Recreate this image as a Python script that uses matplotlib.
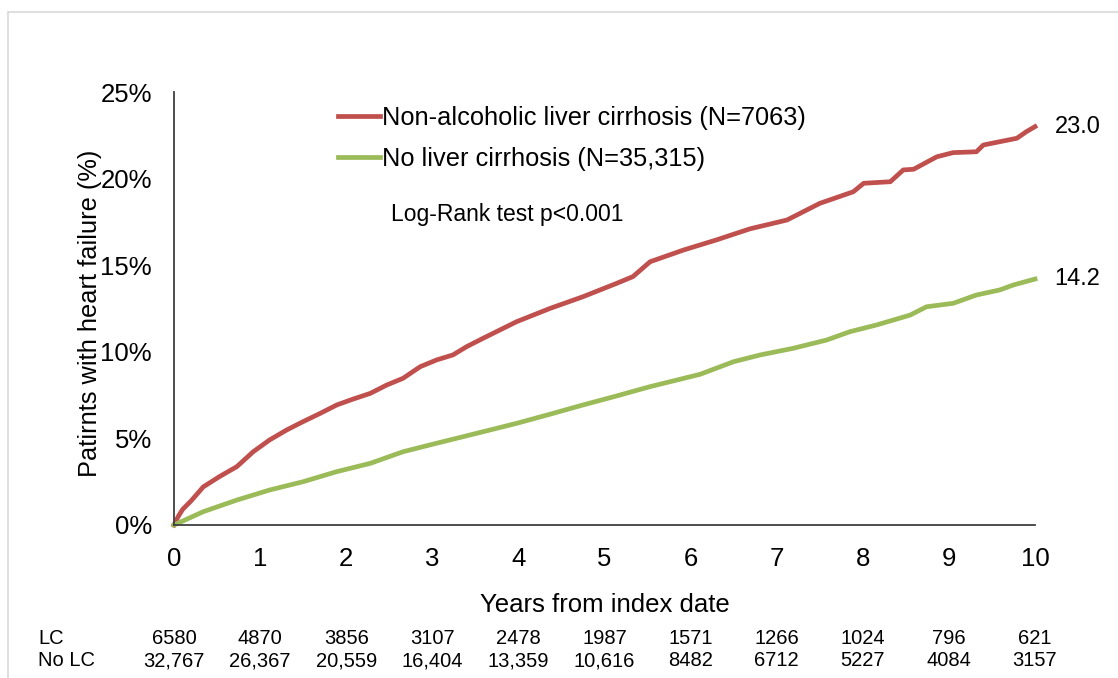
import matplotlib
matplotlib.use("Agg")
import matplotlib.pyplot as plt
from matplotlib.patches import Rectangle
import matplotlib.transforms as mtransforms

plt.rcParams['font.family'] = ['Liberation Sans', 'DejaVu Sans']

# Data
years_lc = [0, 0.05, 0.1, 0.2, 0.34, 0.53, 0.73, 0.92, 1.11, 1.31, 1.50, 1.70, 1.89, 2.08,
            2.28, 2.47, 2.66, 2.86, 3.05, 3.24, 3.40, 3.59, 3.98, 4.37, 4.75, 5.14, 5.33,
            5.53, 5.92, 6.30, 6.69, 7.12, 7.31, 7.50, 7.89, 8.01, 8.32, 8.47, 8.59, 8.86,
            9.05, 9.32, 9.40, 9.59, 9.79, 9.90, 10.0]
lc = [0, 0.5, 0.9, 1.4, 2.2, 2.8, 3.37, 4.23, 4.91, 5.49, 5.97, 6.45, 6.93, 7.27,
      7.6, 8.08, 8.47, 9.14, 9.53, 9.82, 10.3, 10.78, 11.74, 12.51, 13.18, 13.95, 14.34,
      15.2, 15.88, 16.46, 17.1, 17.61, 18.09, 18.57, 19.24, 19.73, 19.82, 20.5, 20.54, 21.26,
      21.5, 21.55, 21.94, 22.13, 22.33, 22.71, 23.0]

years_nolc = [0, 0.34, 0.73, 1.11, 1.50, 1.89, 2.28, 2.66, 3.05, 3.44, 3.98, 4.37, 4.75,
              5.14, 5.53, 6.11, 6.50, 6.81, 7.19, 7.58, 7.85, 8.16, 8.55, 8.74, 9.05, 9.32,
              9.59, 9.75, 10.0]
nolc = [0, 0.77, 1.44, 2.02, 2.5, 3.08, 3.56, 4.23, 4.72, 5.2, 5.87, 6.4, 6.93,
        7.45, 7.99, 8.7, 9.43, 9.82, 10.2, 10.68, 11.16, 11.55, 12.12, 12.6, 12.8, 13.28,
        13.57, 13.86, 14.2]

label_lc = "Non-alcoholic liver cirrhosis (N=7063)"
label_nolc = "No liver cirrhosis (N=35,315)"
end_lc = "23.0"
end_nolc = "14.2"

risk_years = [0, 1, 2, 3, 4, 5, 6, 7, 8, 9, 10]
risk_lc = ["6580", "4870", "3856", "3107", "2478", "1987", "1571", "1266", "1024", "796", "621"]
risk_nolc = ["32,767", "26,367", "20,559", "16,404", "13,359", "10,616", "8482", "6712",
             "5227", "4084", "3157"]

x_ticks = [0, 1, 2, 3, 4, 5, 6, 7, 8, 9, 10]
y_ticks = [0, 5, 10, 15, 20, 25]

RED = "#C0504D"
GREEN = "#9BBB59"

W, H = 1118, 678
fig = plt.figure(figsize=(W / 100, H / 100), dpi=100)
fig.patch.set_facecolor("white")

# outer frame
fig.add_artist(Rectangle((8 / W, -0.05), 1.1, (H - 12) / H + 0.05, transform=fig.transFigure,
                         fill=False, edgecolor="#D9D9D9", linewidth=1.2))

ax = fig.add_axes([174 / W, (H - 525) / H, (1035 - 174) / W, (525 - 92) / H])
ax.plot(years_lc, lc, color=RED, lw=3.4, solid_joinstyle="round", label=label_lc, clip_on=False)
ax.plot(years_nolc, nolc, color=GREEN, lw=3.4, solid_joinstyle="round", label=label_nolc, clip_on=False)

ax.set_xlim(0, 10)
ax.set_ylim(0, 25)
ax.set_xticks(x_ticks)
ax.set_xticklabels([str(v) for v in x_ticks], fontsize=18.5)
ax.set_yticks(y_ticks)
ax.set_yticklabels([f"{v}%" for v in y_ticks], fontsize=18.5)
ax.tick_params(axis="both", length=0, colors="#000000")
ax.tick_params(axis="x", pad=15.5)
ax.tick_params(axis="y", pad=16)
for s in ["top", "right"]:
    ax.spines[s].set_visible(False)
for s in ["left", "bottom"]:
    ax.spines[s].set_color("#404040")
    ax.spines[s].set_linewidth(1.3)

ax.set_xlabel("Years from index date", fontsize=18.5, labelpad=16)
ax.set_ylabel("Patirnts with heart failure (%)", fontsize=18.3)
ax.yaxis.set_label_coords(-0.0837, 0.49)

leg = ax.legend(loc="upper left", bbox_to_anchor=(0.1905, 0.968), frameon=False, fontsize=18.3,
                handlelength=1.65, handletextpad=0.1, labelspacing=0.67, borderaxespad=0,
                borderpad=0)
for h in leg.get_lines():
    h.set_linewidth(3.4)

ax.text(0.252, 0.716, "Log-Rank test p<0.001", transform=ax.transAxes, fontsize=16.5,
        ha="left", va="center")

ax.annotate(end_lc, xy=(years_lc[-1], lc[-1]), xytext=(14, 0),
            textcoords="offset points", fontsize=17, va="center", ha="left", annotation_clip=False)
ax.annotate(end_nolc, xy=(years_nolc[-1], nolc[-1]), xytext=(14, 0),
            textcoords="offset points", fontsize=17, va="center", ha="left", annotation_clip=False)

# risk table
trans = mtransforms.blended_transform_factory(ax.transData, fig.transFigure)
y_lc = 1 - 639 / H
y_nolc = 1 - 661 / H
fig.text(38 / W, y_lc, "LC", fontsize=14.5, ha="left", va="center")
fig.text(38 / W, y_nolc, "No LC", fontsize=14.5, ha="left", va="center")
for yr, a, b in zip(risk_years, risk_lc, risk_nolc):
    ax.text(yr, y_lc, a, transform=trans, fontsize=14.5, ha="center", va="center", clip_on=False)
    ax.text(yr, y_nolc, b, transform=trans, fontsize=14.5, ha="center", va="center", clip_on=False)

fig.savefig("out.png", dpi=100)
